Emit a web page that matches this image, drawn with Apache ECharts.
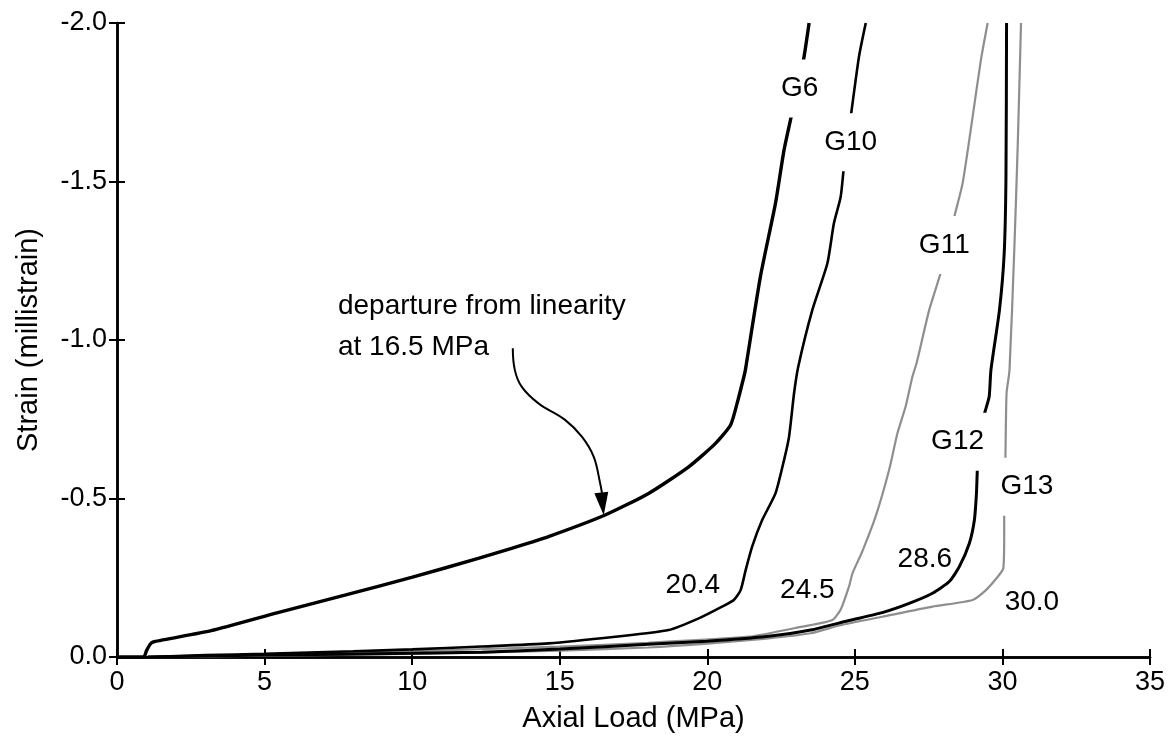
<!DOCTYPE html>
<html><head><meta charset="utf-8">
<script src="https://cdn.jsdelivr.net/npm/echarts@6/dist/echarts.min.js"></script>
<style>html,body{margin:0;padding:0;background:#fff}#c{width:1174px;height:750px}</style>
</head><body><div id="c"></div>
<script>
// Axial load (MPa) vs strain (millistrain) for gauges
const xTitle = 'Axial Load (MPa)';
const yTitle = 'Strain (millistrain)';

const G6 = [[0,0],[0.9,0],[1.0,-0.02],[1.13,-0.041],[1.25,-0.048],[3.19,-0.083],[5.45,-0.140],[7.72,-0.195],[9.98,-0.251],[12.24,-0.311],[13.37,-0.343],[14.62,-0.380],[16.54,-0.448],[18.01,-0.516],[19.37,-0.600],[20.28,-0.674],[20.79,-0.732],[21.01,-0.800],[21.24,-0.884],[21.29,-0.905],[21.80,-1.200],[22.31,-1.431],[22.60,-1.599],[22.88,-1.720],[23.25,-1.878],[23.45,-2.0]];
const G10 = [[1.0,0],[3,-0.006],[5,-0.010],[8,-0.018],[10,-0.024],[12.36,-0.033],[14.62,-0.043],[16.88,-0.064],[18.69,-0.085],[19.71,-0.122],[20.50,-0.159],[20.90,-0.180],[21.13,-0.211],[21.30,-0.274],[21.52,-0.348],[21.86,-0.432],[22.31,-0.516],[22.60,-0.621],[22.77,-0.695],[22.94,-0.832],[23.08,-0.915],[23.56,-1.095],[24.07,-1.242],[24.29,-1.368],[24.52,-1.452],[24.63,-1.547],[24.86,-1.704],[25.14,-1.894],[25.37,-2.0]];
const G11 = [[1.05,0],[5,-0.006],[10,-0.018],[15,-0.033],[18,-0.045],[21.41,-0.064],[23.22,-0.096],[24.24,-0.117],[24.52,-0.150],[24.80,-0.222],[24.92,-0.264],[25.26,-0.335],[25.71,-0.445],[26.16,-0.590],[26.44,-0.705],[26.72,-0.790],[26.95,-0.884],[27.10,-0.930],[27.52,-1.095],[27.97,-1.231],[28.37,-1.389],[28.65,-1.494],[28.99,-1.704],[29.27,-1.883],[29.50,-2.0]];
const G12 = [[1.05,0],[5,-0.006],[10,-0.012],[12.36,-0.015],[15,-0.025],[18,-0.040],[20,-0.050],[22,-0.065],[23.5,-0.085],[24.8,-0.115],[25.93,-0.140],[26.84,-0.169],[27.63,-0.201],[28.20,-0.238],[28.54,-0.285],[28.88,-0.359],[29.05,-0.432],[29.12,-0.516],[29.16,-0.606],[29.30,-0.700],[29.38,-0.763],[29.55,-0.821],[29.61,-0.905],[29.90,-1.095],[30.06,-1.274],[30.12,-1.515],[30.14,-2.0]];
const G13 = [[1.1,0],[5,-0.004],[10,-0.010],[15,-0.020],[18,-0.030],[20,-0.042],[22,-0.058],[23.5,-0.075],[24.5,-0.100],[25.93,-0.127],[27.63,-0.159],[28.99,-0.180],[29.44,-0.211],[29.84,-0.253],[30.03,-0.280],[30.06,-0.390],[30.06,-0.464],[30.10,-0.621],[30.14,-0.832],[30.24,-0.905],[30.41,-1.305],[30.52,-1.620],[30.63,-2.0]];

const curveNames = ['G6','G10','G11','G12','G13'];
const curveLabelPos = [[23.13,-1.793],[24.86,-1.624],[28.03,-1.300],[28.48,-0.679],[30.83,-0.537]];
const onsetNames = ['20.4','24.5','28.6','30.0'];
const onsetLabelPos = [[19.51,-0.225],[23.39,-0.209],[27.37,-0.308],[31.00,-0.172]];

const annotationText = 'departure from linearity\nat 16.5 MPa';
const annotationAnchor = [7.47,-1.043];
const arrowPath = [[13.41,-0.974],[13.48,-0.905],[13.71,-0.853],[14.28,-0.800],[15.18,-0.748],[15.75,-0.695],[16.15,-0.632],[16.37,-0.548],[16.43,-0.518]];
const arrowHead = [16.45,-0.483];

const FONT = "'Liberation Sans', Arial, Helvetica, sans-serif";
const chart = echarts.init(document.getElementById('c'), null, {renderer:'canvas'});

function lineSeries(name, data, color, width, z){
  return {name, type:'line', data, showSymbol:false, symbol:'none', smooth:0.2,
    lineStyle:{color, width}, z, silent:true, animation:false, clip:true};
}

const axisLineStyle = {show:true, lineStyle:{color:'#000', width:2.5}};
const tickStyle = {show:true, inside:true, length:8, lineStyle:{color:'#000', width:2}};
const hiddenDot = {color:'rgba(255,255,255,0)', opacity:1};

const option = {
  backgroundColor:'#fff',
  animation:false,
  grid:{left:117, right:24, top:23, bottom:93},
  xAxis:[
    {type:'value', min:0, max:35, interval:5, position:'bottom',
     axisLine:axisLineStyle, axisTick:tickStyle, splitLine:{show:false},
     axisLabel:{color:'#000', fontSize:27, fontFamily:FONT, margin:12},
     name:xTitle, nameLocation:'middle', nameGap:47,
     nameTextStyle:{color:'#000', fontSize:29, fontFamily:FONT}},
    {type:'value', min:0, max:35, interval:5, position:'top',
     axisLine:axisLineStyle, axisTick:tickStyle, splitLine:{show:false},
     axisLabel:{show:false}}
  ],
  yAxis:[
    {type:'value', min:-2, max:0, interval:0.5, inverse:true, position:'left',
     axisLine:axisLineStyle, axisTick:tickStyle, splitLine:{show:false},
     axisLabel:{color:'#000', fontSize:27, fontFamily:FONT, margin:10,
       formatter:v=>v.toFixed(1)},
     name:yTitle, nameLocation:'middle', nameGap:74,
     nameTextStyle:{color:'#000', fontSize:29, fontFamily:FONT}},
    {type:'value', min:-2, max:0, interval:0.5, inverse:true, position:'right',
     axisLine:axisLineStyle, axisTick:tickStyle, splitLine:{show:false},
     axisLabel:{show:false}}
  ],
  series:[
    lineSeries('G13', G13, '#8e8e8e', 2.2, 2),
    lineSeries('G11', G11, '#8e8e8e', 2.2, 2),
    lineSeries('G12', G12, '#000', 3, 3),
    lineSeries('G10', G10, '#000', 2.6, 3),
    lineSeries('G6', G6, '#000', 3.4, 3),
    {type:'line', data:arrowPath, showSymbol:false, symbol:'none', smooth:0.4,
     lineStyle:{color:'#000', width:2}, z:4, silent:true},
    {type:'scatter', data:[arrowHead], symbol:'triangle', symbolSize:[14,23], symbolRotate:186,
     itemStyle:{color:'#000', opacity:1}, z:5, silent:true},
    {type:'scatter', z:6, silent:true, symbol:'circle', symbolSize:1,
     itemStyle:hiddenDot,
     data:curveNames.map((n,i)=>({name:n, value:curveLabelPos[i]})),
     label:{show:true, position:'inside', formatter:'{b}', color:'#000', opacity:1,
       fontSize:28, fontFamily:FONT, backgroundColor:'#fff', padding:[15,2]}},
    {type:'scatter', z:6, silent:true, symbol:'circle', symbolSize:1,
     itemStyle:hiddenDot,
     data:onsetNames.map((n,i)=>({name:n, value:onsetLabelPos[i]})),
     label:{show:true, position:'inside', formatter:'{b}', color:'#000', opacity:1,
       fontSize:28, fontFamily:FONT}},
    {type:'scatter', z:6, silent:true, symbol:'circle', symbolSize:1,
     itemStyle:hiddenDot,
     data:[{name:annotationText, value:annotationAnchor}],
     label:{show:true, position:'right', distance:0, formatter:'{b}', color:'#000', opacity:1,
       fontSize:28, fontFamily:FONT, lineHeight:41, align:'left', verticalAlign:'middle'}}
  ]
};
chart.setOption(option);
</script></body></html>
